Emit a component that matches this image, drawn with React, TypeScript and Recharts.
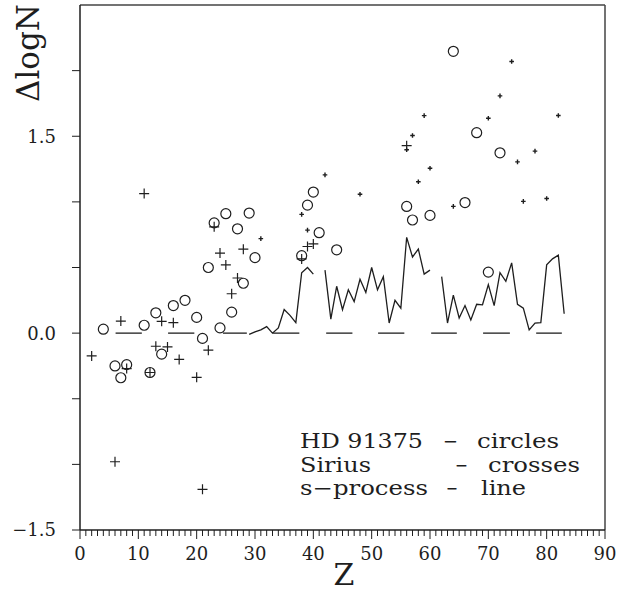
import React from 'react';
import { ComposedChart, XAxis, YAxis, Scatter, Line, ReferenceLine } from 'recharts';

// HD 91375 abundances (circles): [Z, ΔlogN]
const HD91375: [number, number][] = [
  [4, 0.03], [6, -0.25], [7, -0.34], [8, -0.24], [11, 0.06], [12, -0.3], [13, 0.155], [14, -0.16],
  [16, 0.21], [18, 0.25], [20, 0.12], [21, -0.04], [22, 0.5], [23, 0.84], [24, 0.04], [25, 0.91],
  [26, 0.16], [27, 0.795], [28, 0.38], [29, 0.915], [30, 0.575], [38, 0.59], [39, 0.975], [40, 1.075],
  [41, 0.765], [44, 0.635], [56, 0.965], [57, 0.862], [60, 0.897], [64, 2.147], [66, 0.995],
  [68, 1.527], [70, 0.465], [72, 1.374],
];

// Sirius abundances (large crosses)
const SIRIUS: [number, number][] = [
  [2, -0.174], [6, -0.98], [7, 0.092], [8, -0.27], [11, 1.063], [12, -0.3], [13, -0.1], [14, 0.09],
  [15, -0.105], [16, 0.08], [17, -0.2], [20, -0.337], [21, -1.19], [22, -0.13], [23, 0.81], [24, 0.61],
  [25, 0.52], [26, 0.3], [27, 0.42], [28, 0.64], [38, 0.565], [39, 0.66], [40, 0.68], [56, 1.428],
];

// Sirius abundances (small crosses)
const SIRIUS_SMALL: [number, number][] = [
  [31, 0.72], [38, 0.905], [39, 0.785], [42, 1.206], [48, 1.058], [56, 1.397], [57, 1.506], [58, 1.153],
  [59, 1.657], [60, 1.256], [64, 0.966], [70, 1.637], [72, 1.808], [74, 2.07], [75, 1.305], [76, 1.004],
  [78, 1.387], [80, 1.026], [82, 1.658],
];

// s-process line: Z from 29 to 83
const SPROC_Z_START = 29;
const SPROC_LOGN: (number | null)[] = [
  -0.01, 0.01, 0.025, 0.05, 0.0, 0.04, 0.18, 0.135, 0.08, 0.46, 0.5, 0.45, null,
  0.48, 0.107, 0.357, 0.178, 0.33, 0.24, 0.41, 0.31, 0.5, 0.33, 0.43, 0.077, 0.25, 0.19,
  0.73, 0.58, 0.64, 0.45, 0.48, null,
  0.43, 0.077, 0.29, 0.115, 0.21, 0.1, 0.22, 0.216, 0.37, 0.21, 0.46, 0.395, 0.535, 0.22,
  0.19, 0.025, 0.077, 0.08, 0.52, 0.566, 0.594, 0.148,
];

// zero-level dashes [Z start, Z end]
const ZERO_DASHES: [number, number][] = [
  [6.1, 10.6], [15.1, 19.6], [24.5, 28.6], [33.1, 37.6], [42.2, 46.7],
  [51.1, 55.6], [60.2, 64.6], [69.1, 73.7], [78.2, 82.6],
];

const X_DOMAIN: [number, number] = [0, 90];
const Y_DOMAIN: [number, number] = [-1.5, 2.5];
const X_MINOR_TICKS = Array.from({ length: 91 }, (_, i) => i);
const X_LABEL_TICKS = [0, 10, 20, 30, 40, 50, 60, 70, 80, 90];
const Y_TICKS = [-1.5, -1, -0.5, 0, 0.5, 1, 1.5, 2];
const Y_LABEL_TICKS = [-1.5, 0, 1.5];

const toPts = (arr: [number, number][]) => arr.map(([z, y]) => ({ z, y }));
const hdData = toPts(HD91375);
const siriusData = toPts(SIRIUS);
const siriusSmallData = toPts(SIRIUS_SMALL);
const sprocData = SPROC_LOGN.map((y, i) => ({ z: SPROC_Z_START + i, y }));

const INK = '#1e1e1e';
const FONT = "'DejaVu Serif', 'Liberation Serif', serif";

const fmtY = (v: number) => (v < 0 ? '\u2212' + Math.abs(v).toFixed(1) : v.toFixed(1));

const XTick = (props: any) => {
  const { x, y, payload } = props;
  const v = payload.value;
  const major = X_LABEL_TICKS.includes(v);
  return (
    <g>
      <line x1={x} x2={x} y1={y} y2={y + (major ? 9 : 6)} stroke={INK} strokeWidth={1} />
      {major && (
        <text x={x} y={y + 30} textAnchor="middle" fontSize={18} fontFamily={FONT} fill={INK}>
          {v}
        </text>
      )}
    </g>
  );
};

const YTick = (props: any) => {
  const { x, y, payload } = props;
  const v = payload.value;
  const labeled = Y_LABEL_TICKS.includes(v);
  return (
    <g>
      <line x1={x - 8} x2={x} y1={y} y2={y} stroke={INK} strokeWidth={1} />
      {labeled && (
        <text x={x - 24} y={y} dy="0.36em" textAnchor="end" fontSize={18} fontFamily={FONT} fill={INK}>
          {fmtY(v)}
        </text>
      )}
    </g>
  );
};

const CircleShape = (p: any) => (
  <circle cx={p.cx} cy={p.cy} r={5} fill="none" stroke={INK} strokeWidth={1.2} />
);
const CrossShape = (p: any) => (
  <path
    d={`M${p.cx - 5},${p.cy}H${p.cx + 5}M${p.cx},${p.cy - 5}V${p.cy + 5}`}
    stroke={INK}
    strokeWidth={1.2}
    fill="none"
  />
);
const SmallCrossShape = (p: any) => (
  <path
    d={`M${p.cx - 2.3},${p.cy}H${p.cx + 2.3}M${p.cx},${p.cy - 2.3}V${p.cy + 2.3}`}
    stroke={INK}
    strokeWidth={1.4}
    fill="none"
  />
);

const txt = { fontFamily: FONT, fontSize: 20, fill: INK, lengthAdjust: 'spacingAndGlyphs' } as const;

export default function App() {
  return (
    <div style={{ position: 'absolute', left: 0, top: 0, width: 625, height: 594 }}>
      <ComposedChart
        width={625}
        height={594}
        margin={{ top: 5, right: 20, bottom: 24, left: 20 }}
      >
        <XAxis
          type="number"
          dataKey="z"
          domain={X_DOMAIN}
          ticks={X_MINOR_TICKS}
          interval={0}
          allowDataOverflow
          height={40}
          tickSize={0}
          tickMargin={0}
          tickLine={false}
          tick={<XTick />}
          axisLine={{ stroke: INK, strokeWidth: 1.5 }}
        />
        <YAxis
          type="number"
          dataKey="y"
          domain={Y_DOMAIN}
          ticks={Y_TICKS}
          interval={0}
          allowDataOverflow
          width={60}
          tickSize={0}
          tickMargin={0}
          tickLine={false}
          tick={<YTick />}
          axisLine={{ stroke: INK, strokeWidth: 1.5 }}
        />
        <ReferenceLine y={2.5} stroke="#444" strokeWidth={1.5} />
        <ReferenceLine x={90} stroke="#444" strokeWidth={1.5} />
        {ZERO_DASHES.map(([a, b], i) => (
          <ReferenceLine
            key={'d' + i}
            segment={[{ x: a, y: 0 }, { x: b, y: 0 }]}
            stroke={INK}
            strokeWidth={1.3}
          />
        ))}
        <Line
          data={sprocData}
          dataKey="y"
          type="linear"
          stroke={INK}
          strokeWidth={1.3}
          dot={false}
          activeDot={false}
          connectNulls={false}
          isAnimationActive={false}
        />
        <Scatter data={hdData} dataKey="y" shape={<CircleShape />} isAnimationActive={false} />
        <Scatter data={siriusData} dataKey="y" shape={<CrossShape />} isAnimationActive={false} />
        <Scatter data={siriusSmallData} dataKey="y" shape={<SmallCrossShape />} isAnimationActive={false} />
      </ComposedChart>
      <svg
        width={625}
        height={594}
        style={{ position: 'absolute', left: 0, top: 0, pointerEvents: 'none' }}
      >
        <text x={39} y={53} transform="rotate(-90 39 53)" textAnchor="middle" fontFamily={FONT} fontSize={31} fill={INK}>
          ΔlogN
        </text>
        <text x={344} y={585} textAnchor="middle" fontFamily={FONT} fontSize={30} fill={INK}>
          Z
        </text>
        <text x={300} y={448} textLength={123} {...txt}>HD 91375</text>
        <text x={443} y={448} textLength={15} {...txt}>{'\u2212'}</text>
        <text x={477} y={448} textLength={82} {...txt}>circles</text>
        <text x={300} y={471.5} textLength={71} {...txt}>Sirius</text>
        <text x={455} y={471.5} textLength={13} {...txt}>{'\u2212'}</text>
        <text x={488} y={471.5} textLength={92} {...txt}>crosses</text>
        <text x={300} y={495} textLength={128} {...txt}>s{'\u2212'}process</text>
        <text x={446} y={495} textLength={12} {...txt}>{'\u2212'}</text>
        <text x={481} y={495} textLength={45} {...txt}>line</text>
      </svg>
    </div>
  );
}
